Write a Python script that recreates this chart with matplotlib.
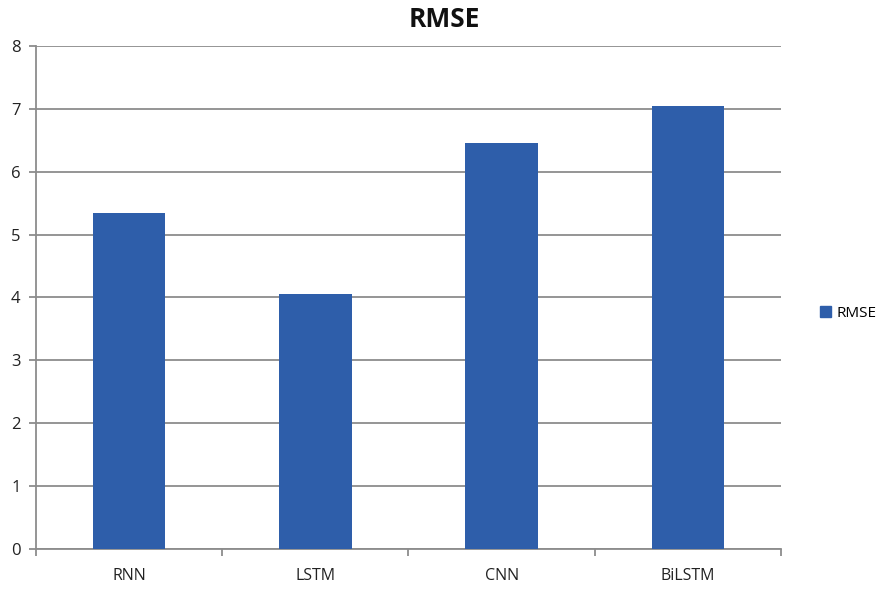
import numpy as np
import matplotlib.pyplot as plt
from matplotlib.patches import Patch

models = ['RNN', 'LSTM', 'CNN', 'BiLSTM']
rmse = [5.35, 4.05, 6.45, 7.04]

bar_color = '#2E5EAA'
grid_color = '#8C8C8C'

plt.rcParams['font.family'] = ['Open Sans', 'DejaVu Sans']

fig = plt.figure(figsize=(8.84, 5.89), dpi=100)
ax = fig.add_axes([0.0407, 0.068, 0.8428, 0.854])

x = np.arange(len(models))
ax.bar(x, rmse, width=0.39, color=bar_color, zorder=3)

ax.set_xlim(-0.5, len(models) - 0.5)
ax.set_ylim(0, 8)
ax.set_yticks(range(0, 9))
ax.yaxis.grid(True, color=grid_color, linewidth=1.3, zorder=0)

# category labels between boundary ticks
ax.set_xticks(x)
ax.set_xticklabels(models, fontsize=11.5, color='#222222')
ax.tick_params(axis='x', length=0, pad=14)
ax.set_xticks(np.arange(-0.5, len(models)), minor=True)
ax.tick_params(axis='x', which='minor', length=5, width=1.3, color=grid_color)
ax.tick_params(axis='y', length=5, width=1.3, color=grid_color,
               labelsize=12, pad=6, labelcolor='#222222')

for side in ['top', 'right']:
    ax.spines[side].set_visible(False)
for side in ['left', 'bottom']:
    ax.spines[side].set_color(grid_color)
    ax.spines[side].set_linewidth(1.3)

fig.suptitle('RMSE', x=0.503, y=0.99, fontsize=19, fontweight='bold',
             color='#111111')

fig.legend(handles=[Patch(color=bar_color, label='RMSE')],
           loc='center left', bbox_to_anchor=(0.912, 0.468),
           frameon=False, fontsize=11, handlelength=0.7, handleheight=0.7,
           handletextpad=0.4)

fig.savefig('out.png', dpi=100, facecolor='white')
